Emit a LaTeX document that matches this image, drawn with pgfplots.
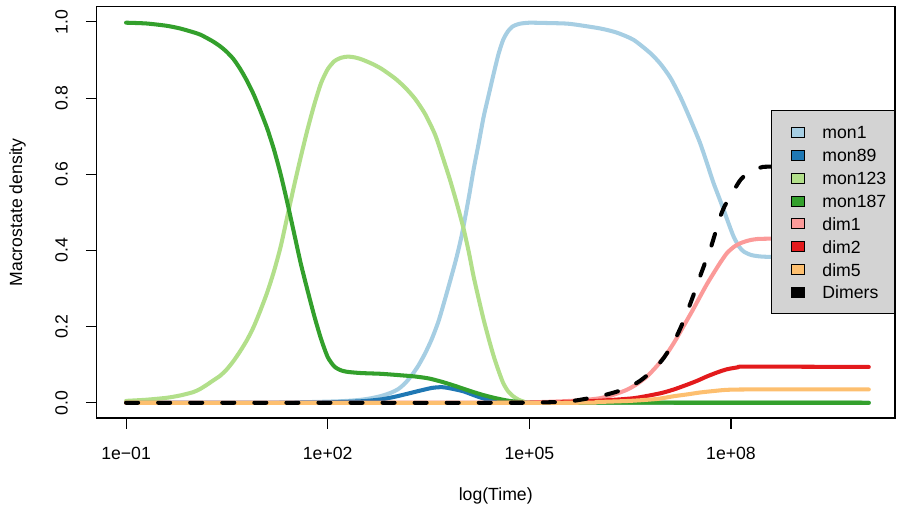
\documentclass[border=0pt]{standalone}
\usepackage{fontspec}
\setmainfont{Liberation Sans}
\usepackage{pgfplots}
\pgfplotsset{compat=1.18}
\definecolor{c1}{HTML}{A6CEE3}
\definecolor{c2}{HTML}{1F78B4}
\definecolor{c3}{HTML}{B2DF8A}
\definecolor{c4}{HTML}{33A02C}
\definecolor{c5}{HTML}{FB9A99}
\definecolor{c6}{HTML}{E31A1C}
\definecolor{c7}{HTML}{FDBF6F}
\definecolor{lgr}{HTML}{D3D3D3}
\newcommand\rf{\fontsize{12}{14.4}\selectfont}
\pgfplotsset{
  rbox/.style={legend image code/.code={\path (0pt,0pt); \filldraw[fill=#1, draw=black, line width=0.5pt, solid, line cap=butt, line join=miter] (6.6pt,-3.4pt) rectangle (15.4pt,3.4pt);}},
  ln/.style={color=#1, line width=2.75pt, line cap=round, line join=round, smooth, tension=0.4, rbox=#1}
}
\begin{document}
\begin{tikzpicture}
\useasboundingbox (-65.62pt,-61.88pt) rectangle (544.34pt,284.24pt);
\begin{axis}[
  at={(0pt,0pt)}, anchor=south west,
  scale only axis, width=542.98pt, height=279.68pt,
  xmin=-1.44, xmax=10.44, ymin=-0.04, ymax=1.04,
  axis line style={line width=0.7pt, black},
  tick pos=left, tick align=outside, major tick length=7.3pt,
  every tick/.style={black, line width=0.7pt},
  xtick={-1,2,5,8}, xticklabels={1e−01,1e+02,1e+05,1e+08},
  ytick={0,0.2,0.4,0.6,0.8,1.0}, yticklabels={0.0,0.2,0.4,0.6,0.8,1.0},
  tick label style={font=\rf},
  xticklabel style={anchor=center}, xticklabel shift=16.5pt,
  yticklabel style={rotate=90, anchor=center}, yticklabel shift=16.4pt,
  xlabel={log(Time)}, ylabel={Macrostate density},
  label style={font=\rf},
  xlabel style={at={(axis description cs:0.5,-0.1896)}, anchor=center},
  ylabel style={at={(axis description cs:-0.0989,0.5)}, anchor=center},
  legend style={at={(axis description cs:1,0.5)}, anchor=east, fill=lgr, draw=black, line width=0.7pt, font=\rf, inner xsep=5.6pt, inner ysep=6.6pt, column sep=12.2pt, row sep=0pt, nodes={inner xsep=0pt, inner ysep=3.5pt, text height=8.6pt, text depth=0pt}},
  legend cell align=left,
]
% mon1
\addplot[ln=c1] coordinates {(-1,0) (1.0,0.0005) (1.5,0.001) (2.0,0.003) (2.3,0.005) (2.5,0.008) (2.65,0.012) (2.8,0.018) (2.95,0.027) (3.05,0.036) (3.15,0.051) (3.25,0.072) (3.35,0.098) (3.45,0.130) (3.55,0.168) (3.65,0.215) (3.75,0.275) (3.85,0.338) (3.92,0.384) (4.0,0.445) (4.1,0.540) (4.17,0.612) (4.25,0.685) (4.32,0.751) (4.4,0.812) (4.47,0.865) (4.54,0.915) (4.61,0.953) (4.68,0.975) (4.75,0.988) (4.85,0.995) (5.0,0.998) (5.3,0.997) (5.6,0.995) (6.05,0.983) (6.3,0.972) (6.55,0.953) (6.8,0.918) (6.95,0.890) (7.1,0.853) (7.25,0.802) (7.4,0.742) (7.54,0.682) (7.65,0.625) (7.74,0.577) (7.82,0.540) (7.89,0.507) (7.97,0.468) (8.04,0.436) (8.12,0.410) (8.19,0.397) (8.3,0.388) (8.45,0.384) (8.7,0.383) (10.05,0.383)};
\addlegendentry{mon1}
% mon89
\addplot[ln=c2] coordinates {(-1,0) (1.5,0) (2.0,0.001) (2.5,0.004) (2.8,0.009) (3.03,0.017) (3.33,0.030) (3.55,0.039) (3.7,0.041) (3.82,0.038) (4.02,0.030) (4.22,0.017) (4.42,0.006) (4.61,0.001) (5.0,0) (10.05,0)};
\addlegendentry{mon89}
% mon123
\addplot[ln=c3] coordinates {(-1,0.005) (-0.7,0.008) (-0.4,0.013) (-0.2,0.019) (0.0,0.028) (0.1,0.036) (0.2,0.047) (0.3,0.059) (0.4,0.071) (0.5,0.088) (0.6,0.110) (0.7,0.136) (0.8,0.165) (0.9,0.200) (1.0,0.243) (1.1,0.290) (1.2,0.345) (1.3,0.410) (1.4,0.490) (1.5,0.570) (1.6,0.646) (1.7,0.718) (1.8,0.783) (1.9,0.839) (2.0,0.876) (2.1,0.897) (2.2,0.906) (2.3,0.909) (2.4,0.907) (2.5,0.902) (2.65,0.891) (2.8,0.877) (3.0,0.852) (3.15,0.828) (3.3,0.798) (3.45,0.758) (3.6,0.703) (3.72,0.640) (3.82,0.585) (3.92,0.524) (4.02,0.458) (4.1,0.395) (4.17,0.332) (4.25,0.270) (4.32,0.218) (4.4,0.165) (4.47,0.122) (4.54,0.085) (4.61,0.052) (4.68,0.031) (4.76,0.017) (4.84,0.008) (4.92,0.003) (5.05,0.0005) (10.05,0)};
\addlegendentry{mon123}
% mon187
\addplot[ln=c4] coordinates {(-1.0,0.998) (-0.7,0.996) (-0.4,0.990) (-0.2,0.983) (0.0,0.973) (0.1,0.967) (0.2,0.958) (0.3,0.948) (0.4,0.936) (0.5,0.921) (0.6,0.902) (0.7,0.876) (0.8,0.845) (0.9,0.809) (1.0,0.766) (1.1,0.720) (1.2,0.665) (1.3,0.600) (1.4,0.525) (1.5,0.445) (1.6,0.365) (1.7,0.295) (1.8,0.228) (1.9,0.168) (2.0,0.120) (2.1,0.095) (2.2,0.085) (2.3,0.081) (2.5,0.078) (2.8,0.076) (3.1,0.072) (3.3,0.069) (3.5,0.064) (3.7,0.055) (3.9,0.044) (4.1,0.032) (4.3,0.021) (4.5,0.012) (4.7,0.005) (4.9,0.0015) (5.1,0.0003) (10.05,0)};
\addlegendentry{mon187}
% dim1
\addplot[ln=c5] coordinates {(-1,0) (4.5,0) (5.0,0.001) (5.5,0.004) (5.8,0.007) (6.05,0.012) (6.25,0.021) (6.45,0.034) (6.6,0.049) (6.75,0.069) (6.9,0.097) (7.05,0.130) (7.17,0.163) (7.29,0.200) (7.42,0.240) (7.54,0.279) (7.64,0.311) (7.74,0.340) (7.84,0.368) (7.94,0.393) (8.04,0.409) (8.14,0.419) (8.26,0.426) (8.39,0.430) (8.7,0.431) (10.05,0.431)};
\addlegendentry{dim1}
% dim2
\addplot[ln=c6] coordinates {(-1,0) (5.0,0) (5.5,0.002) (6.0,0.005) (6.55,0.012) (6.95,0.025) (7.15,0.035) (7.34,0.047) (7.5,0.058) (7.64,0.069) (7.8,0.080) (7.94,0.088) (8.1,0.093) (8.24,0.095) (10.05,0.094)};
\addlegendentry{dim2}
% dim5
\addplot[ln=c7] coordinates {(-1,0) (5.5,0) (6.0,0.002) (6.5,0.005) (6.9,0.010) (7.14,0.017) (7.35,0.022) (7.54,0.027) (7.75,0.031) (7.94,0.034) (8.3,0.035) (10.05,0.035)};
\addlegendentry{dim5}
% Dimers
\addplot[ln=black, dash pattern=on 8.2pt off 13.6pt] coordinates {(-1,0) (4.5,0) (5.0,0.0005) (5.56,0.003) (5.95,0.014) (6.2,0.024) (6.45,0.038) (6.65,0.058) (6.85,0.087) (7.0,0.118) (7.14,0.157) (7.24,0.193) (7.34,0.235) (7.44,0.282) (7.54,0.332) (7.62,0.370) (7.69,0.402) (7.77,0.448) (7.84,0.489) (7.91,0.518) (7.99,0.541) (8.07,0.566) (8.14,0.585) (8.23,0.601) (8.33,0.613) (8.45,0.618) (8.6,0.620) (10.05,0.620)};
\addlegendentry{Dimers}
\end{axis}
\end{tikzpicture}
\end{document}
